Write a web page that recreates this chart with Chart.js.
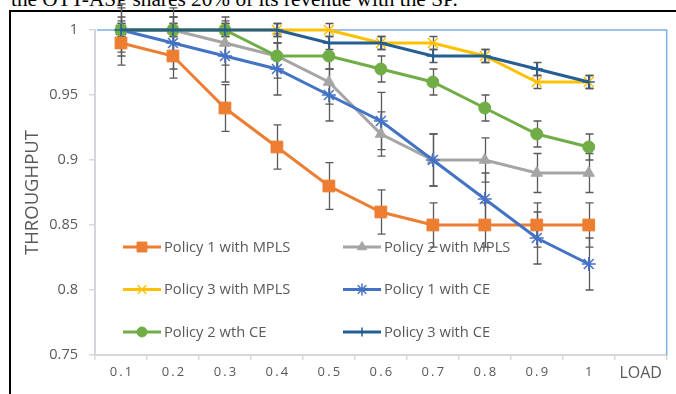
<!DOCTYPE html>
<html><head><meta charset="utf-8">
<script src="https://cdn.jsdelivr.net/npm/chart.js@4/dist/chart.umd.min.js"></script>
<style>
html,body{margin:0;padding:0;background:#fff;width:676px;height:394px;overflow:hidden;position:relative}
#cap{position:absolute;left:11px;top:-11px;font-family:"Liberation Serif";font-size:21.3px;line-height:21.3px;white-space:nowrap;color:#000}
#frame{position:absolute;left:9px;top:10px;width:700px;height:400px;border:2px solid #000}
#c{position:absolute;left:0;top:0}
</style></head>
<body>
<div id="cap">the OTT-ASP shares 20% of its revenue with the SP.</div>
<div id="frame"></div>
<canvas id="c" width="676" height="394"></canvas>
<script>
// ---- data ----
const loads = ['0.1','0.2','0.3','0.4','0.5','0.6','0.7','0.8','0.9','1'];
const xAxisLabel = 'LOAD';
const yAxisTitle = 'THROUGHPUT';
const seriesNames = ['Policy 1 with MPLS','Policy 2 with MPLS','Policy 3 with MPLS','Policy 1 with CE','Policy 2 wth CE','Policy 3 with CE'];

const p1Mpls = [0.99, 0.98, 0.94, 0.91, 0.88, 0.86, 0.85, 0.85, 0.85, 0.85];
const p2Mpls = [1.00, 1.00, 0.99, 0.98, 0.96, 0.92, 0.90, 0.90, 0.89, 0.89];
const p3Mpls = [1.00, 1.00, 1.00, 1.00, 1.00, 0.99, 0.99, 0.98, 0.96, 0.96];
const p1Ce   = [1.00, 0.99, 0.98, 0.97, 0.95, 0.93, 0.90, 0.87, 0.84, 0.82];
const p2Ce   = [1.00, 1.00, 1.00, 0.98, 0.98, 0.97, 0.96, 0.94, 0.92, 0.91];
const p3Ce   = [1.00, 1.00, 1.00, 1.00, 0.99, 0.99, 0.98, 0.98, 0.97, 0.96];

const p1MplsErr = [0.017, 0.017, 0.018, 0.017, 0.018, 0.017, 0.017, 0.017, 0.017, 0.017];
const p2MplsErr = [0.017, 0.017, 0.017, 0.017, 0.017, 0.017, 0.020, 0.017, 0.015, 0.015];
const p3MplsErr = [0.005, 0.005, 0.005, 0.005, 0.005, 0.005, 0.005, 0.005, 0.005, 0.005];
const p1CeErr   = [0.020, 0.020, 0.020, 0.020, 0.020, 0.022, 0.020, 0.020, 0.020, 0.020];
const p2CeErr   = [0.010, 0.010, 0.010, 0.010, 0.010, 0.010, 0.010, 0.010, 0.010, 0.010];
const p3CeErr   = [0.005, 0.005, 0.005, 0.005, 0.005, 0.005, 0.005, 0.005, 0.005, 0.005];

const yMin = 0.75, yMax = 1, yStep = 0.05;

// ---- styles ----
const FONT = 'Open Sans';
const TXT = '#595959';
const styles = [
  {color:'#ED7D31', pointStyle:'rect',     r:8.3, bw:1,   lr:7},
  {color:'#A5A5A5', pointStyle:'triangle', r:6.5, bw:1,   lr:5.5},
  {color:'#FFC000', pointStyle:'crossRot', r:7,   bw:1.5, lr:6},
  {color:'#4472C4', pointStyle:'star',     r:7,   bw:1.5, lr:6},
  {color:'#70AD47', pointStyle:'circle',   r:6,   bw:1,   lr:5},
  {color:'#255E91', pointStyle:'cross',    r:6,   bw:1.5, lr:4.5}
];
const values = [p1Mpls, p2Mpls, p3Mpls, p1Ce, p2Ce, p3Ce];
const errs = [p1MplsErr, p2MplsErr, p3MplsErr, p1CeErr, p2CeErr, p3CeErr];

const datasets = values.map((d, i) => ({
  label: seriesNames[i],
  data: d,
  errors: errs[i],
  borderColor: styles[i].color,
  backgroundColor: styles[i].color,
  pointBackgroundColor: styles[i].color,
  pointBorderColor: styles[i].color,
  pointStyle: styles[i].pointStyle,
  pointRadius: styles[i].r,
  pointBorderWidth: styles[i].bw,
  borderWidth: 3,
  tension: 0,
  clip: false,
  order: values.length - 1 - i
}));

const errorBars = {
  id: 'errorBars',
  beforeDatasetsDraw(chart) {
    const ctx = chart.ctx, y = chart.scales.y;
    ctx.save();
    ctx.strokeStyle = '#595959';
    ctx.lineWidth = 1.3;
    chart.data.datasets.forEach((ds, i) => {
      const meta = chart.getDatasetMeta(i);
      ds.errors.forEach((e, j) => {
        const pt = meta.data[j];
        if (!pt) return;
        const v = ds.data[j];
        const px = Math.round(pt.x) + 0.5;
        const yt = y.getPixelForValue(v + e), yb = y.getPixelForValue(v - e);
        ctx.beginPath();
        ctx.moveTo(px, yt); ctx.lineTo(px, yb);
        ctx.moveTo(px - 4, yt); ctx.lineTo(px + 4, yt);
        ctx.moveTo(px - 4, yb); ctx.lineTo(px + 4, yb);
        ctx.stroke();
      });
    });
    ctx.restore();
  }
};

const plotFrame = {
  id: 'plotFrame',
  beforeDatasetsDraw(chart) {
    const {ctx, chartArea:a} = chart;
    ctx.save();
    ctx.strokeStyle = '#7FB0E4';
    ctx.lineWidth = 1.5;
    ctx.beginPath();
    ctx.moveTo(a.left + 2, a.top);
    ctx.lineTo(a.right, a.top);
    ctx.lineTo(a.right, a.bottom);
    ctx.stroke();
    ctx.restore();
  }
};

const inLegend = {
  id: 'inLegend',
  afterDatasetsDraw(chart) {
    const {ctx, chartArea:a} = chart;
    ctx.save();
    chart.data.datasets.forEach((ds, i) => {
      const col = i % 2, row = Math.floor(i / 2);
      const x0 = a.left + 28 + col * 220;
      const yy = a.top + 217 + row * 42.5;
      const st = styles[i];
      ctx.strokeStyle = st.color;
      ctx.fillStyle = st.color;
      ctx.lineWidth = 3;
      ctx.beginPath();
      ctx.moveTo(x0, yy); ctx.lineTo(x0 + 38, yy);
      ctx.stroke();
      ctx.lineWidth = st.bw;
      Chart.helpers.drawPoint(ctx, {pointStyle: st.pointStyle, radius: st.lr, borderWidth: st.bw, rotation: 0}, x0 + 19, yy);
      ctx.fillStyle = TXT;
      ctx.font = '14.7px "' + FONT + '"';
      ctx.textBaseline = 'middle';
      ctx.textAlign = 'left';
      ctx.fillText(ds.label, x0 + 41, yy + 0.5);
    });
    ctx.restore();
  }
};

new Chart(document.getElementById('c'), {
  type: 'line',
  data: { labels: [...loads, xAxisLabel], datasets },
  options: {
    responsive: false,
    animation: false,
    events: [],
    devicePixelRatio: 1,
    layout: { padding: { left: 0, top: 30, right: 2, bottom: 0 } },
    plugins: { legend: { display: false }, tooltip: { enabled: false } },
    scales: {
      x: {
        type: 'category',
        offset: true,
        grid: { offset: true, drawOnChartArea: false, drawTicks: true, tickLength: 5, color: '#D9D9D9', lineWidth: 1.5 },
        border: { color: '#D3D6DB', width: 2 },
        ticks: {
          autoSkip: false,
          maxRotation: 0,
          padding: 4,
          color: TXT,
          font: (c) => c.index === loads.length ? {family: FONT, size: 16} : {family: FONT, size: 13},
          callback(v, i) {
            const l = this.getLabelForValue(v);
            return i < loads.length ? l.split('').join('\u2009') : l;
          }
        },
        afterFit(s) { s.height = 39; }
      },
      y: {
        min: yMin, max: yMax,
        grid: { drawOnChartArea: false, drawTicks: true, tickLength: 6, color: '#D9D9D9', lineWidth: 1.5 },
        border: { color: '#D3D6DB', width: 2 },
        ticks: {
          stepSize: yStep, padding: 11, color: TXT, font: {family: FONT, size: 14.5},
          callback: (v) => String(parseFloat(Number(v).toFixed(2)))
        },
        title: { display: true, text: yAxisTitle, color: TXT, font: {family: FONT, size: 18.5}, padding: {top: 22, bottom: 0} },
        afterFit(s) { s.width = 95; }
      }
    }
  },
  plugins: [plotFrame, errorBars, inLegend]
});
</script>
</body></html>
